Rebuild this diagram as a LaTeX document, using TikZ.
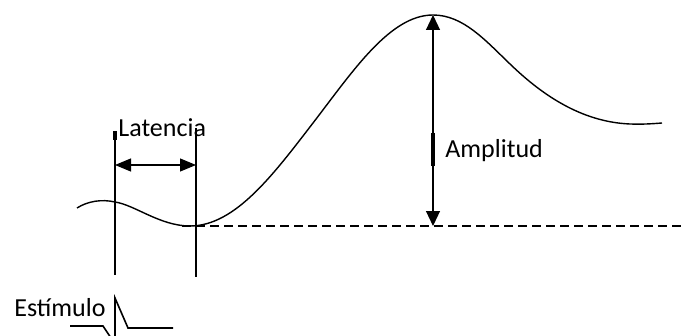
\documentclass[tikz,border=0pt]{standalone}
\usepackage{fontspec}
\setmainfont{Carlito}
\usetikzlibrary{arrows.meta}
\tikzset{
  lbl/.style={anchor=base west, inner sep=0pt, font=\fontsize{13}{15}\selectfont},
  thin line/.style={line width=0.7pt, black},
  curve/.style={line width=0.7pt, black},
  bigarrow/.style={line width=0.6pt, {Triangle[length=7.5pt,width=7pt]}-{Triangle[length=7.5pt,width=7pt]}},
  tick/.style={line width=1.6pt},
  baseline dash/.style={line width=0.9pt, dash pattern=on 4.5pt off 2.5pt}
}
\begin{document}
\begin{tikzpicture}[x=0.5pt, y=-0.5pt]
\useasboundingbox (0,0) rectangle (684,336);
\clip (0,0) rectangle (684,336);
% key points
\coordinate (s) at (77,208);
\coordinate (p1) at (115,202);
\coordinate (m) at (190,226);
\coordinate (i1) at (313,123);
\coordinate (pk) at (433,15);
\coordinate (i2) at (510,64);
\coordinate (t) at (630,124);
\coordinate (e) at (662,123);
% main wave
\draw[curve] (s) .. controls (88,201) and (102,199) .. (p1)
  .. controls (135,205) and (160,226) .. (m)
  .. controls (235,226) and (273,175) .. (i1)
  .. controls (353,71) and (390,15) .. (pk)
  .. controls (463,15) and (485,40) .. (i2)
  .. controls (540,93) and (580,122) .. (t)
  .. controls (645,124.5) and (655,123.5) .. (e);
% dashed baseline
\coordinate (d0) at (182,226);
\coordinate (d1) at (684,226);
\draw[baseline dash] (d0) -- (d1);
% vertical markers
\coordinate (la) at (115,131);
\coordinate (lb) at (115,275);
\coordinate (ra) at (196,128);
\coordinate (rb) at (196,277);
\draw[thin line] (la) -- (lb);
\draw[thin line] (ra) -- (rb);
% latency arrow
\coordinate (lat0) at (115,165);
\coordinate (lat1) at (196,165);
\draw[line width=0.6pt, {Triangle[length=8pt,width=6.5pt]}-{Triangle[length=8pt,width=6.5pt]}] (lat0) -- (lat1);
% amplitude arrow
\coordinate (amp0) at (433,15);
\coordinate (amp1) at (433,226);
\draw[bigarrow] (amp0) -- (amp1);
% cursor ticks
\coordinate (lt0) at (115,131);
\coordinate (lt1) at (115,140);
\draw[tick] (lt0) -- (lt1);
\coordinate (at0) at (433,133);
\coordinate (at1) at (433,166);
\draw[tick] (at0) -- (at1);
% labels
\node[lbl] (latencia) at (118,137) {Latencia};
\node[lbl] (amplitud) at (445,158) {Amplitud};
\node[lbl] (estimulo) at (14,316) {Estímulo};
% stimulus
\coordinate (st0) at (70,326);
\coordinate (st1) at (103,326);
\coordinate (st2) at (115,344);
\coordinate (st3) at (115,298);
\coordinate (st4) at (128,328);
\coordinate (st5) at (173,328);
\draw[line width=0.8pt] (st0) -- (st1) -- (st2) -- (st3) -- (st4) -- (st5);
\end{tikzpicture}
\end{document}
